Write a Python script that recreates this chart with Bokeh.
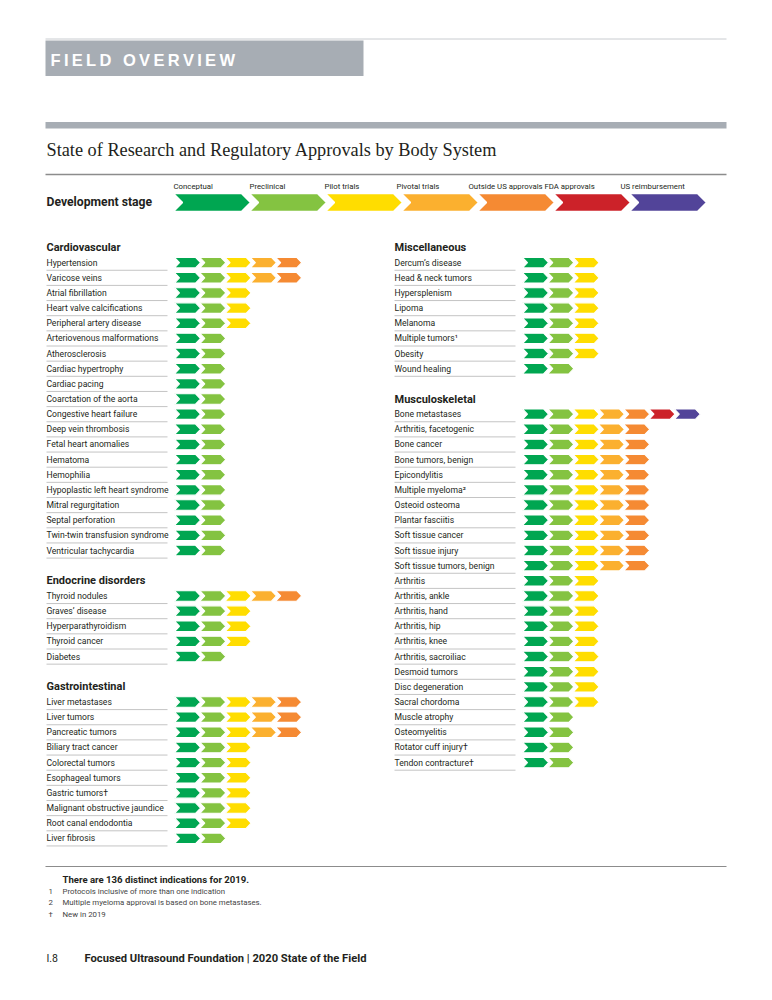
from bokeh.plotting import figure
from bokeh.models import Range1d
from bokeh.core.properties import value
from bokeh.embed import file_html
from bokeh.resources import INLINE

# ---------------- data ----------------
stages = ["Conceptual", "Preclinical", "Pilot trials", "Pivotal trials",
          "Outside US approvals", "FDA approvals", "US reimbursement"]
stage_colors = ["#00a651", "#84c341", "#ffdd00", "#fbb02f", "#f58a33", "#cc2229", "#524499"]

cardio_names = ["Hypertension", "Varicose veins", "Atrial fibrillation", "Heart valve calcifications",
                "Peripheral artery disease", "Arteriovenous malformations", "Atherosclerosis",
                "Cardiac hypertrophy", "Cardiac pacing", "Coarctation of the aorta",
                "Congestive heart failure", "Deep vein thrombosis", "Fetal heart anomalies",
                "Hematoma", "Hemophilia", "Hypoplastic left heart syndrome", "Mitral regurgitation",
                "Septal perforation", "Twin-twin transfusion syndrome", "Ventricular tachycardia"]
cardio_stage = [5, 5, 3, 3, 3, 2, 2, 2, 2, 2, 2, 2, 2, 2, 2, 2, 2, 2, 2, 2]

endo_names = ["Thyroid nodules", "Graves\u2019 disease", "Hyperparathyroidism", "Thyroid cancer", "Diabetes"]
endo_stage = [5, 3, 3, 3, 2]

gi_names = ["Liver metastases", "Liver tumors", "Pancreatic tumors", "Biliary tract cancer",
            "Colorectal tumors", "Esophageal tumors", "Gastric tumors\u2020",
            "Malignant obstructive jaundice", "Root canal endodontia", "Liver fibrosis"]
gi_stage = [5, 5, 5, 3, 3, 3, 3, 3, 3, 2]

misc_names = ["Dercum\u2019s disease", "Head & neck tumors", "Hypersplenism", "Lipoma", "Melanoma",
              "Multiple tumors\u00b9", "Obesity", "Wound healing"]
misc_stage = [3, 3, 3, 3, 3, 3, 3, 2]

musc_names = ["Bone metastases", "Arthritis, facetogenic", "Bone cancer", "Bone tumors, benign",
              "Epicondylitis", "Multiple myeloma\u00b2", "Osteoid osteoma", "Plantar fasciitis",
              "Soft tissue cancer", "Soft tissue injury", "Soft tissue tumors, benign", "Arthritis",
              "Arthritis, ankle", "Arthritis, hand", "Arthritis, hip", "Arthritis, knee",
              "Arthritis, sacroiliac", "Desmoid tumors", "Disc degeneration", "Sacral chordoma",
              "Muscle atrophy", "Osteomyelitis", "Rotator cuff injury\u2020", "Tendon contracture\u2020"]
musc_stage = [7, 5, 5, 5, 5, 5, 5, 5, 5, 5, 5, 3, 3, 3, 3, 3, 3, 3, 3, 3, 2, 2, 2, 2]

left_groups = [("Cardiovascular", cardio_names, cardio_stage),
               ("Endocrine disorders", endo_names, endo_stage),
               ("Gastrointestinal", gi_names, gi_stage)]
right_groups = [("Miscellaneous", misc_names, misc_stage),
                ("Musculoskeletal", musc_names, musc_stage)]

footnotes_sym = ["1", "2", "\u2020"]
footnotes_txt = ["Protocols inclusive of more than one indication",
                 "Multiple myeloma approval is based on bone metastases.",
                 "New in 2019"]
summary = "There are 136 distinct indications for 2019."

# ---------------- layout ----------------
W, H = 756, 984
SANS = "Roboto"
TEXT = "#231f20"
GRAY = "#a7adb4"

p = figure(width=W, height=H, x_range=Range1d(0, W), y_range=Range1d(H, 0),
           output_backend="svg", toolbar_location=None, min_border=0,
           x_axis_type=None, y_axis_type=None)
p.grid.visible = False
p.outline_line_color = None
p.background_fill_color = "white"
p.border_fill_color = "white"

# page furniture
TS = "\u2009"
banner = TS.join("FIELD") + TS + "\u2002" + TS.join("OVERVIEW")
p.segment(x0=[45], y0=[38.5], x1=[726], y1=[38.5], line_color="#c9ccd0", line_width=1)
p.quad(left=[45], right=[363], top=[40], bottom=[75.5], fill_color=GRAY, line_color=None)
p.text(x=[50], y=[59], text=[banner], text_color="white",
       text_font=value("Liberation Sans"), text_font_style="bold", text_font_size="16.5px",
       text_baseline="middle")
p.quad(left=[45], right=[726], top=[121.5], bottom=[128], fill_color=GRAY, line_color=None)
p.text(x=[46], y=[149], text=["State of Research and Regulatory Approvals by Body System"],
       text_color=TEXT, text_font=value("Liberation Serif"), text_font_size="18.3px",
       text_baseline="middle")
p.segment(x0=[45], y0=[174], x1=[726], y1=[174], line_color="#8c8c8c", line_width=1.5)


def chevron(x, yc, w, h, d):
    xs = [x, x + w - d, x + w, x + w - d, x, x + d]
    ys = [yc - h / 2, yc - h / 2, yc, yc + h / 2, yc + h / 2, yc]
    return xs, ys


# development stage legend arrow
BIG_X0, BIG_PITCH, BIG_Y = 173, 76, 202
label_shift = [0, 0, -1, -5, -9, -9, -9]
bxs, bys = [], []
for i in range(len(stages)):
    xs, ys = chevron(BIG_X0 + i * BIG_PITCH, BIG_Y, BIG_PITCH + 1, 18, 9)
    bxs.append(xs)
    bys.append(ys)
p.patches(xs=bxs, ys=bys, fill_color=stage_colors, line_color="white", line_width=1.5)
p.text(x=[BIG_X0 + i * BIG_PITCH + label_shift[i] for i in range(len(stages))],
       y=[186] * len(stages), text=stages, text_color=TEXT, text_font=value(SANS),
       text_font_size="7.8px", text_baseline="middle")
p.text(x=[46], y=[201], text=["Development stage"], text_color=TEXT,
       text_font=value(SANS), text_font_style="bold", text_font_size="12.2px",
       text_baseline="middle")

# body-system columns
ROW0, PITCH = 247, 15.15
SM_PITCH, SM_W, SM_H, SM_D = 25.3, 26, 10.5, 5


def draw_column(groups, x_label, x_line_end, x_chev):
    hx, hy, ht = [], [], []
    lx, ly, lt = [], [], []
    sx0, sx1, sy = [], [], []
    cxs, cys, ccol = [], [], []
    r = 0
    for title, names, stg in groups:
        hx.append(x_label); hy.append(ROW0 + r * PITCH); ht.append(title)
        for k, (nm, s) in enumerate(zip(names, stg)):
            y = ROW0 + (r + 1 + k) * PITCH
            lx.append(x_label); ly.append(y); lt.append(nm)
            sx0.append(x_label); sx1.append(x_line_end); sy.append(y + 7.6)
            for j in range(s):
                xs, ys = chevron(x_chev + j * SM_PITCH, y, SM_W, SM_H, SM_D)
                cxs.append(xs); cys.append(ys); ccol.append(stage_colors[j])
        r += len(names) + 2
    p.segment(x0=sx0, y0=sy, x1=sx1, y1=sy, line_color="#c4c4c4", line_width=1)
    p.patches(xs=cxs, ys=cys, fill_color=ccol, line_color="white", line_width=1.1)
    p.text(x=lx, y=ly, text=lt, text_color=TEXT, text_font=value(SANS),
           text_font_size="8.6px", text_baseline="middle")
    p.text(x=hx, y=hy, text=ht, text_color=TEXT, text_font=value(SANS),
           text_font_style="bold", text_font_size="11px", text_baseline="middle")


draw_column(left_groups, 46, 167, 174)
draw_column(right_groups, 394, 515, 522)

# footnotes
p.segment(x0=[45], y0=[866], x1=[726], y1=[866], line_color="#8c8c8c", line_width=1.2)
p.text(x=[62], y=[879], text=[summary], text_color=TEXT, text_font=value(SANS),
       text_font_style="bold", text_font_size="9.6px", text_baseline="middle")
fy = [879 + 11.7 * (i + 1) for i in range(len(footnotes_sym))]
p.text(x=[48] * len(fy), y=fy, text=footnotes_sym, text_color="#444444",
       text_font=value(SANS), text_font_size="7.8px", text_baseline="middle")
p.text(x=[62] * len(fy), y=fy, text=footnotes_txt, text_color="#444444",
       text_font=value(SANS), text_font_size="7.8px", text_baseline="middle")

# page footer
p.text(x=[46], y=[958], text=["I.8"], text_color=TEXT, text_font=value(SANS),
       text_font_size="10.5px", text_baseline="middle")
p.text(x=[84], y=[958], text=["Focused Ultrasound Foundation | 2020 State of the Field"],
       text_color=TEXT, text_font=value(SANS), text_font_style="bold",
       text_font_size="11.2px", text_baseline="middle")

open("out.html", "w").write(file_html(p, INLINE))
